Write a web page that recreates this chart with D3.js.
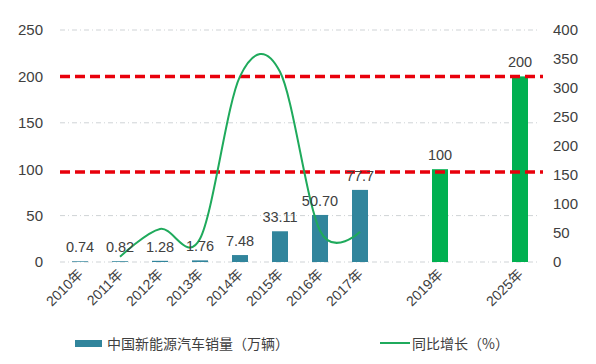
<!DOCTYPE html>
<html><head><meta charset="utf-8">
<script src="https://cdn.jsdelivr.net/npm/d3@7"></script>
<style>body{margin:0;background:#fff}svg{display:block}text{font-family:"Liberation Sans",Arial,"Noto Sans CJK SC",sans-serif;fill:#404040}</style>
</head><body><svg id="c" width="596" height="364"></svg>
<script>
const slots = ["2010年","2011年","2012年","2013年","2014年","2015年","2016年","2017年","_a","2019年","_b","2025年"];
const salesYears = ["2010年","2011年","2012年","2013年","2014年","2015年","2016年","2017年"];
const salesValues = [0.74,0.82,1.28,1.76,7.48,33.11,50.70,77.7];
const salesLabels = ["0.74","0.82","1.28","1.76","7.48","33.11","50.70","77.7"];
const targetYears = ["2019年","2025年"];
const targetValues = [100,200];
const targetLabels = ["100","200"];
const growthYears = ["2011年","2012年","2013年","2014年","2015年","2016年","2017年"];
const growthValues = [9,57,40,320,328,54,52];
const refLines = [200,97];
const leftTicks = [0,50,100,150,200,250];
const rightTicks = [0,50,100,150,200,250,300,350,400];
const legendBar = "中国新能源汽车销量（万辆）";
const legendLine = "同比增长（%）";

const svg = d3.select("#c");
const x = d3.scaleBand().domain(slots).range([60,540]);
const yL = d3.scaleLinear().domain([0,250]).range([262,30]);
const yR = d3.scaleLinear().domain([0,400]).range([262,30]);
const bw = 16;
const cx = d => x(d) + x.bandwidth()/2;

// gridlines
svg.append("g").selectAll("line").data([0,50,150,250]).join("line")
  .attr("x1",60).attr("x2",540).attr("y1",d=>yL(d)).attr("y2",d=>yL(d))
  .attr("stroke","#cfd3d6").attr("stroke-width",1).attr("stroke-dasharray","5,3,1,3");

// left axis
const gl = svg.append("g").attr("transform","translate(46,0)")
  .call(d3.axisLeft(yL).tickValues(leftTicks).tickSize(0).tickPadding(3));
gl.select(".domain").remove();
gl.selectAll("text").attr("font-size",15).attr("fill","#404040").style("font-family","Liberation Sans, Arial");

// right axis
const gr = svg.append("g").attr("transform","translate(550,0)")
  .call(d3.axisRight(yR).tickValues(rightTicks).tickSize(0).tickPadding(3));
gr.select(".domain").remove();
gr.selectAll("text").attr("font-size",15).attr("fill","#404040").style("font-family","Liberation Sans, Arial");

// sales bars
svg.append("g").selectAll("rect").data(salesYears).join("rect")
  .attr("x",d=>cx(d)-bw/2).attr("width",bw)
  .attr("y",(d,i)=>yL(salesValues[i])).attr("height",(d,i)=>yL(0)-yL(salesValues[i]))
  .attr("fill","#31859c");
// target bars
svg.append("g").selectAll("rect").data(targetYears).join("rect")
  .attr("x",d=>cx(d)-bw/2).attr("width",bw)
  .attr("y",(d,i)=>yL(targetValues[i])).attr("height",(d,i)=>yL(0)-yL(targetValues[i]))
  .attr("fill","#00b050");

// red dashed lines
svg.append("g").selectAll("line").data(refLines).join("line")
  .attr("x1",60).attr("x2",543).attr("y1",d=>yL(d)).attr("y2",d=>yL(d))
  .attr("stroke","#e8000b").attr("stroke-width",3.5).attr("stroke-dasharray","10,5");

// growth line
const line = d3.line().x(d=>cx(d[0])).y(d=>yR(d[1])).curve(d3.curveCardinal.tension(0));
svg.append("path").datum(growthYears.map((d,i)=>[d,growthValues[i]]))
  .attr("d",line).attr("fill","none").attr("stroke","#1faa5c").attr("stroke-width",2);

// bar labels
svg.append("g").selectAll("text").data(salesYears).join("text")
  .attr("x",d=>cx(d)).attr("y",(d,i)=>yL(salesValues[i])-9)
  .attr("text-anchor","middle").attr("font-size",14.5).text((d,i)=>salesLabels[i]);
svg.append("g").selectAll("text").data(targetYears).join("text")
  .attr("x",d=>cx(d)).attr("y",(d,i)=>yL(targetValues[i])-9)
  .attr("text-anchor","middle").attr("font-size",14.5).text((d,i)=>targetLabels[i]);

// x labels
svg.append("g").selectAll("text").data(slots.filter(s=>!s.startsWith("_"))).join("text")
  .attr("transform",d=>`translate(${cx(d)+4},${275}) rotate(-45)`)
  .attr("text-anchor","end").attr("font-size",14).text(d=>d);

// legend
svg.append("rect").attr("x",75).attr("y",340).attr("width",27).attr("height",7).attr("fill","#31859c");
svg.append("text").attr("x",107).attr("y",349).attr("font-size",14).style("font-family","Noto Sans CJK SC").text(legendBar);
svg.append("line").attr("x1",380).attr("x2",410).attr("y1",343).attr("y2",343).attr("stroke","#1faa5c").attr("stroke-width",2);
svg.append("text").attr("x",412).attr("y",349).attr("font-size",14).style("font-family","Noto Sans CJK SC").text(legendLine);
</script></body></html>
